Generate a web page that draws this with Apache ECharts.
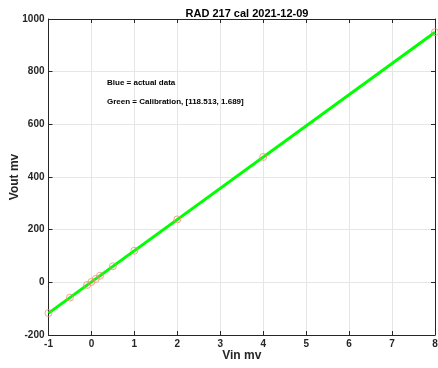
<!DOCTYPE html>
<html>
<head>
<meta charset="utf-8">
<script src="https://cdn.jsdelivr.net/npm/echarts@6/dist/echarts.min.js"></script>
<style>
html,body{margin:0;padding:0;background:#fff;}
#c{width:438px;height:368px;}
</style>
</head>
<body>
<div id="c"></div>
<script>
var vin = [-1, -0.5, -0.1, 0, 0.1, 0.2, 0.5, 1, 2, 4, 8];
var vout = [-117, -58, -10, 1.5, 13, 25, 61, 120, 239, 476, 950];
var calX = [-1, 8];
var calY = [-116.8, 949.8];
var xTicks = [-1, 0, 1, 2, 3, 4, 5, 6, 7, 8];
var yTicks = [-200, 0, 200, 400, 600, 800, 1000];
var titleText = 'RAD 217 cal 2021-12-09';
var note1 = 'Blue = actual data';
var note2 = 'Green = Calibration, [118.513, 1.689]';

var font = 'Liberation Sans, Arial, sans-serif';
var chart = echarts.init(document.getElementById('c'), null, {renderer: 'canvas'});
var axisCommon = {
  axisLine: {show: true, onZero: false, lineStyle: {color: '#262626', width: 1}},
  axisTick: {show: true, inside: true, length: 4, lineStyle: {color: '#262626'}},
  splitLine: {show: true, lineStyle: {color: '#e6e6e6', width: 1}}
};
var scatterData = vin.map(function(v, i){ return [v, vout[i]]; });
var lineData = calX.map(function(v, i){ return [v, calY[i]]; });
chart.setOption({
  animation: false,
  title: {
    text: titleText, left: 242, top: 3, textAlign: 'center',
    textStyle: {fontFamily: font, fontSize: 11, fontWeight: 'bold', color: '#000'}
  },
  grid: {left: 48.5, right: 3, top: 19, bottom: 33, containLabel: false, outerBoundsMode: 'none'},
  xAxis: [
    Object.assign({
      type: 'value', min: -1, max: 8, interval: 1, position: 'bottom',
      name: 'Vin mv', nameLocation: 'middle', nameGap: 15, nameMoveOverlap: false,
      nameTextStyle: {fontFamily: font, fontSize: 12, fontWeight: 'bold', color: '#262626'},
      axisLabel: {fontFamily: font, fontSize: 10, fontWeight: 'bold', color: '#262626', margin: 4,
        formatter: function(v){ return xTicks.indexOf(v) >= 0 ? String(v) : ''; }}
    }, axisCommon),
    Object.assign({
      type: 'value', min: -1, max: 8, interval: 1, position: 'top',
      axisLabel: {show: false}
    }, axisCommon, {splitLine: {show: false}})
  ],
  yAxis: [
    Object.assign({
      type: 'value', min: -200, max: 1000, interval: 200, position: 'left',
      name: 'Vout mv', nameLocation: 'middle', nameGap: 28, nameMoveOverlap: false,
      nameTextStyle: {fontFamily: font, fontSize: 12, fontWeight: 'bold', color: '#262626'},
      axisLabel: {fontFamily: font, fontSize: 10, fontWeight: 'bold', color: '#262626', margin: 4,
        formatter: function(v){ return yTicks.indexOf(v) >= 0 ? String(v) : ''; }}
    }, axisCommon),
    Object.assign({
      type: 'value', min: -200, max: 1000, interval: 200, position: 'right',
      axisLabel: {show: false}
    }, axisCommon, {splitLine: {show: false}})
  ],
  graphic: [
    {type: 'text', left: 107, top: 79, z: 100, style: {text: note1, font: 'bold 8px ' + font, fill: '#000'}},
    {type: 'text', left: 107, top: 98, z: 100, style: {text: note2, font: 'bold 8px ' + font, fill: '#000'}}
  ],
  series: [
    {
      type: 'line', data: lineData, xAxisIndex: 0, yAxisIndex: 0,
      symbol: 'none', lineStyle: {color: '#00ff00', width: 3}, z: 2
    },
    {
      type: 'scatter', data: scatterData, xAxisIndex: 0, yAxisIndex: 0,
      symbol: 'circle', symbolSize: 7,
      itemStyle: {color: 'rgba(0,0,0,0)', borderColor: '#ec9070', borderWidth: 1}, z: 3
    }
  ]
});
</script>
</body>
</html>
